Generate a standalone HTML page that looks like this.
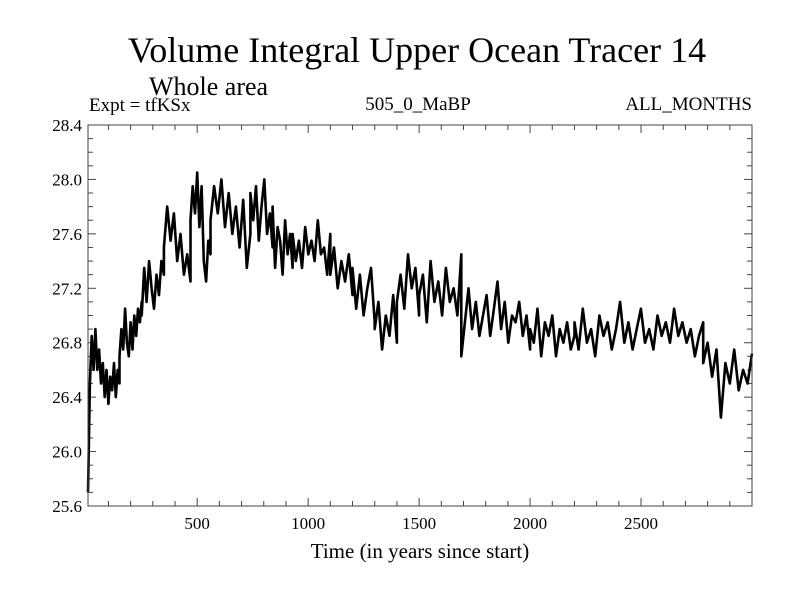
<!DOCTYPE html>
<html><head><meta charset="utf-8"><style>
body{margin:0;background:#fff;}
svg{display:block;font-family:"Liberation Serif",serif;}
</style></head><body>
<svg id="chart" width="800" height="600" viewBox="0 0 800 600" xmlns="http://www.w3.org/2000/svg">
<rect width="800" height="600" fill="#fff"/>
<text x="417" y="62" font-size="36" text-anchor="middle">Volume Integral Upper Ocean Tracer 14</text>
<text x="149" y="95" font-size="26">Whole area</text>
<text x="89" y="111" font-size="19">Expt = tfKSx</text>
<text x="418" y="110" font-size="19" text-anchor="middle">505_0_MaBP</text>
<text x="752" y="110" font-size="19" text-anchor="end">ALL_MONTHS</text>
<text x="420" y="558" font-size="21" text-anchor="middle">Time (in years since start)</text>
<g id="axes"></g>
<path id="series" fill="none" stroke="#000" stroke-width="2.6" stroke-linejoin="round"/>
<rect x="88" y="125" width="664" height="381" fill="none" stroke="#444" stroke-width="1"/>
</svg>
<script>
const yTicks=[25.6,26.0,26.4,26.8,27.2,27.6,28.0,28.4];
const yTickLabels=["25.6","26.0","26.4","26.8","27.2","27.6","28.0","28.4"];
const xTicks=[500,1000,1500,2000,2500];
const xTickLabels=["500","1000","1500","2000","2500"];
const segStart=[8,150,250,350,470,560,740,840,930,1100,1200,1300,1400,1500,1690,2000,2200,2780];
const segEnd=[150,250,350,470,560,740,840,930,1100,1200,1300,1400,1500,1690,2000,2200,2780,3000];
const segValues=[
[25.7,26.5,26.85,26.6,26.9,26.6,26.75,26.5,26.65,26.4,26.6,26.35,26.55,26.45,26.65,26.4,26.6,26.5],
[26.7,26.9,26.75,27.05,26.8,26.7,26.95,26.75,27.0,26.85,27.05,26.95,27.1],
[27.0,27.35,27.1,27.4,27.2,27.05,27.3,27.15,27.4,27.3],
[27.5,27.8,27.55,27.75,27.4,27.6,27.3,27.45,27.25],
[27.7,27.95,27.75,28.05,27.65,27.95,27.4,27.25,27.55,27.45],
[27.7,27.95,27.75,28.0,27.65,27.9,27.6,27.8,27.5,27.85,27.35,27.6],
[27.9,27.7,27.95,27.55,27.8,28.0,27.6,27.75,27.5],
[27.8,27.35,27.65,27.55,27.3,27.7,27.45,27.6,27.35],
[27.6,27.4,27.55,27.35,27.65,27.45,27.55,27.4,27.7,27.45,27.5,27.3,27.6],
[27.3,27.5,27.2,27.4,27.25,27.45,27.15],
[27.35,27.05,27.3,27.0,27.2,27.35,26.95],
[26.9,27.1,26.75,27.0,26.85,27.15,26.8],
[27.1,27.3,27.05,27.45,27.2,27.35,27.0],
[27.15,27.3,26.95,27.4,27.1,27.25,27.0,27.35,27.1,27.2,27.0,27.45],
[26.7,26.95,27.2,26.9,27.1,26.85,27.0,27.15,26.85,27.05,27.25,26.9,27.1,26.8,27.0,26.95,27.1,26.85,27.0,26.75],
[26.9,26.8,27.05,26.7,26.95,26.85,27.0,26.7,26.9,26.8,26.95,26.75,26.85],
[26.95,26.75,27.05,26.8,26.9,26.7,27.0,26.85,26.95,26.75,26.9,27.1,26.8,26.95,26.75,26.9,27.05,26.8,26.9,26.75,27.0,26.85,26.95,26.8,27.05,26.85,26.95,26.8,26.9,26.7,26.85,26.95],
[26.65,26.8,26.55,26.75,26.25,26.65,26.5,26.75,26.45,26.6,26.5,26.72]
];
const X0=88,X1=752,Y0=506,Y1=125,XMIN=8,XMAX=3000,YMIN=25.6,YMAX=28.4;
function sx(t){return X0+(t-XMIN)/(XMAX-XMIN)*(X1-X0);}
function sy(v){return Y0-(v-YMIN)/(YMAX-YMIN)*(Y0-Y1);}
const NS="http://www.w3.org/2000/svg";
const axes=document.getElementById('axes');
function line(x1,y1,x2,y2,name){const l=document.createElementNS(NS,'line');l.setAttribute('x1',x1);l.setAttribute('y1',y1);l.setAttribute('x2',x2);l.setAttribute('y2',y2);l.setAttribute('stroke','#444');


axes.appendChild(l);}
function text(x,y,s,anchor,name){const t=document.createElementNS(NS,'text');t.setAttribute('x',x);t.setAttribute('y',y);t.setAttribute('font-size','17');t.setAttribute('text-anchor',anchor);t.textContent=s;


axes.appendChild(t);}
for(let k=0;k<=28;k++){const v=25.6+k*0.1;const y=sy(v);const L=(k%4===0)?8:5;line(X0,y,X0+L,y,'y-tick');line(X1,y,X1-L,y,'y-tick');}
yTicks.forEach((v,i)=>text(X0-6,sy(v)+6,yTickLabels[i],'end','y-tick-label'));
for(let t=100;t<3000;t+=100){const x=sx(t);const L=t%500===0?8:5;line(x,Y0,x,Y0-L,'x-tick');line(x,Y1,x,Y1+L,'x-tick');}
xTicks.forEach((t,i)=>text(sx(t),Y0+23,xTickLabels[i],'middle','x-tick-label'));
let d='';
segValues.forEach((vals,s)=>{
  const a=segStart[s],b=segEnd[s],n=vals.length;
  vals.forEach((v,i)=>{const t=a+(b-a)*(i/(n-1||1));d+=(d?'L':'M')+sx(t).toFixed(1)+','+sy(v).toFixed(1);});
});
document.getElementById('series').setAttribute('d',d);
</script>
</body></html>
